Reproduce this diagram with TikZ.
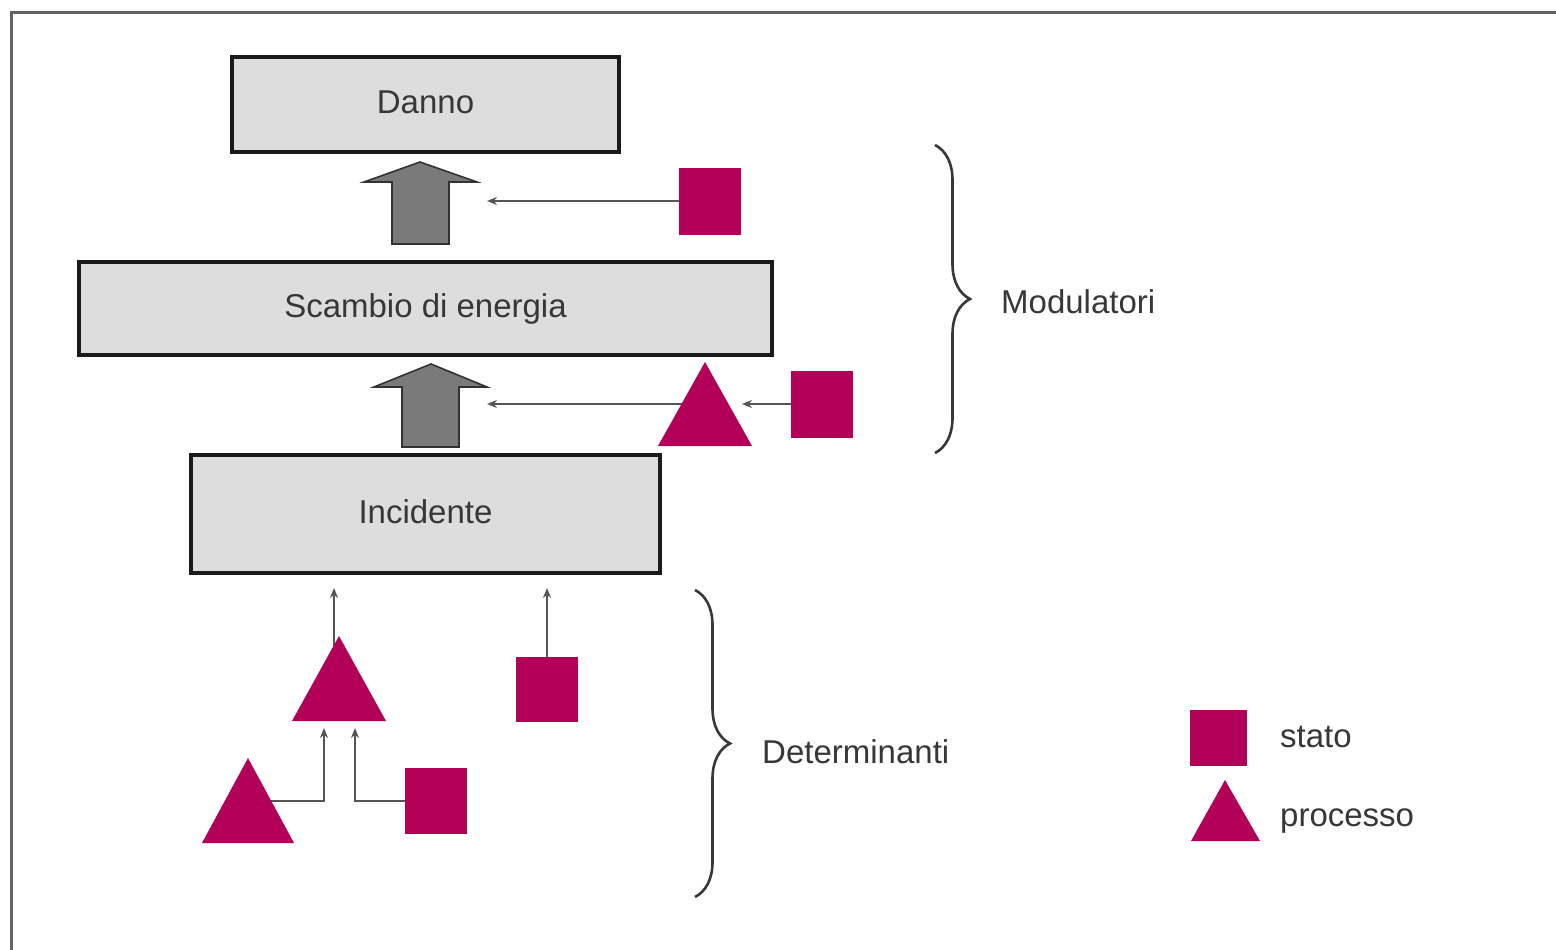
\documentclass[tikz,border=0pt]{standalone}
\usepackage{fontspec}
\setmainfont{Liberation Sans}
\usetikzlibrary{arrows.meta,decorations.pathreplacing}

\definecolor{boxfill}{RGB}{221,221,221}
\definecolor{boxline}{RGB}{26,26,26}
\definecolor{magenta}{RGB}{178,0,88}
\definecolor{flowfill}{RGB}{122,122,122}
\definecolor{flowline}{RGB}{50,50,50}
\definecolor{thinline}{RGB}{85,85,85}
\definecolor{label}{RGB}{55,55,55}
\definecolor{frame}{RGB}{100,100,100}

\tikzset{
  stagebox/.style={draw=boxline, fill=boxfill, line width=4pt, inner sep=0pt,
    text height=18pt, text depth=0pt, text=label,
    font=\fontsize{33}{40}\selectfont},
  statebox/.style={fill=magenta, draw=none, inner sep=0pt},
  procfill/.style={fill=magenta},
  flowarrow/.style={fill=flowfill, draw=flowline, line width=1.6pt, line join=miter},
  link/.style={draw=thinline, line width=1.8pt, -{Stealth[length=10pt,width=8pt]}},
  bracket/.style={draw=label, line width=2.6pt, decorate,
    decoration={brace, amplitude=35pt}},
  caption/.style={text=label, font=\fontsize{33}{40}\selectfont, inner sep=0pt}
}

\begin{document}
\begin{tikzpicture}[x=1pt, y=-1pt]
  \useasboundingbox (0,0) rectangle (1556,950);
  \begin{scope}
    \clip (0,0) rectangle (1556,950);
    \draw[frame, line width=3pt] (11,13) rectangle (1600,1000);
  \end{scope}

  % stages of the chain
  \node[stagebox, minimum width=387pt, minimum height=95pt] (danno) at (425.5,104.5) {Danno};
  \node[stagebox, minimum width=693pt, minimum height=93pt] (scambio) at (425.5,308.5) {Scambio di energia};
  \node[stagebox, minimum width=469pt, minimum height=118pt] (incidente) at (425.5,514) {Incidente};

  % broad upward arrows between stages
  \draw[flowarrow] (392,244) -- (392,182) -- (364,182) -- (420,162) -- (477,182)
    -- (449,182) -- (449,244) -- cycle;
  \draw[flowarrow] (402,447) -- (402,387) -- (374,387) -- (431,364) -- (487,387)
    -- (459,387) -- (459,447) -- cycle;
  \coordinate (hit1) at (487,201);
  \coordinate (hit2) at (487,404);

  % modulators
  \node[statebox, minimum width=62pt, minimum height=67pt] (m1) at (710,201) {};
  \node[statebox, minimum width=62pt, minimum height=67pt] (m3) at (822,404) {};
  \coordinate (m2apex) at (705,362);
  \coordinate (m2l) at (658,446);
  \coordinate (m2r) at (752,446);
  \coordinate (m2in) at (742,404);
  \coordinate (m2out) at (690,404);

  \draw[link] (m1.west) -- (hit1);
  \draw[link] (m2out) -- (hit2);
  \fill[procfill] (m2apex) -- (m2r) -- (m2l) -- cycle;
  \draw[link] (m3.west) -- (m2in);

  % determinants
  \node[statebox, minimum width=62pt, minimum height=65pt] (d1) at (547,689.5) {};
  \node[statebox, minimum width=62pt, minimum height=66pt] (d2) at (436,801) {};
  \coordinate (t1apex) at (339,636);
  \coordinate (t1l) at (292,721);
  \coordinate (t1r) at (386,721);
  \coordinate (t2apex) at (248,758);
  \coordinate (t2l) at (202,843);
  \coordinate (t2r) at (294,843);
  \coordinate (t1foot) at (334,648);
  \coordinate (t1top) at (334,588);
  \coordinate (d1top) at (547,588);
  \coordinate (t2side) at (262,801);
  \coordinate (in1) at (324,728);
  \coordinate (in2) at (355,728);

  \draw[link] (d1.north) -- (d1top);
  \draw[link] (t1foot) -- (t1top);
  \draw[link] (t2side) -| (in1);
  \draw[link] (d2.west) -| (in2);
  \fill[procfill] (t1apex) -- (t1r) -- (t1l) -- cycle;
  \fill[procfill] (t2apex) -- (t2r) -- (t2l) -- cycle;

  % group braces
  \draw[bracket] (935,145) -- (935,453);
  \draw[bracket] (695,590) -- (695,897);
  \node[caption, anchor=base west] (modlab) at (1001,313) {Modulatori};
  \node[caption, anchor=base west] (detlab) at (762,763) {Determinanti};

  % legend
  \node[statebox, minimum width=57pt, minimum height=56pt] (keystate) at (1218.5,738) {};
  \fill[procfill] (1225,780) -- (1260,841) -- (1191,841) -- cycle;
  \node[caption, anchor=base west] (statolab) at (1280,747) {stato};
  \node[caption, anchor=base west] (proclab) at (1280,826) {processo};
\end{tikzpicture}
\end{document}
